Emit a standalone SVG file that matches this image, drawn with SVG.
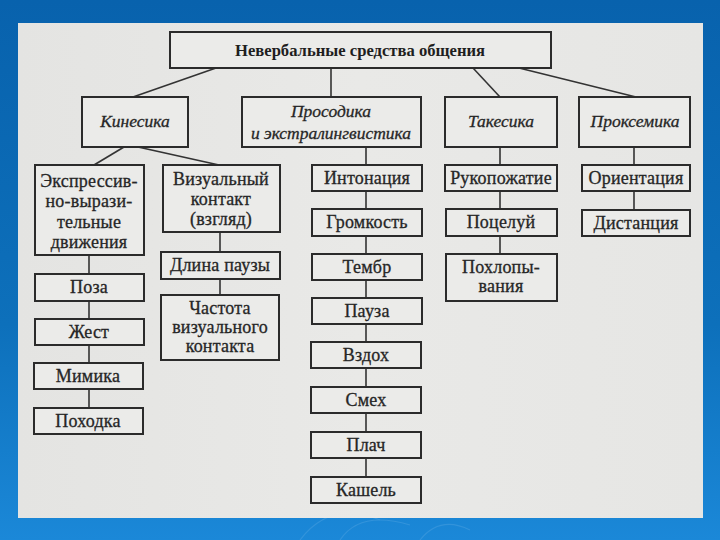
<svg xmlns="http://www.w3.org/2000/svg" width="720" height="540" viewBox="0 0 720 540">
<defs>
<linearGradient id="bg" x1="0" y1="0" x2="0" y2="1">
<stop offset="0" stop-color="#0862ad"/>
<stop offset="0.6" stop-color="#0d70bb"/>
<stop offset="1" stop-color="#1b88d8"/>
</linearGradient>
<linearGradient id="paper" x1="0" y1="0" x2="1" y2="0">
<stop offset="0" stop-color="#e4e4e2"/>
<stop offset="0.5" stop-color="#e9e9e7"/>
<stop offset="1" stop-color="#e6e6e4"/>
</linearGradient>
<style>
.box{fill:#ebebe9;stroke:#2b2b2b;stroke-width:2}
text{font-family:'Liberation Serif','DejaVu Serif',serif}
.t{font-size:18px;letter-spacing:0.2px;fill:#262626;stroke:#262626;stroke-width:0.3;text-anchor:middle}
.h{font-size:17.5px;font-style:italic;fill:#262626;stroke:#262626;stroke-width:0.3;text-anchor:middle}
.title{font-size:17.5px;font-weight:bold;fill:#1e1e1e;text-anchor:middle}
#connectors line{stroke:#333;stroke-width:1.6}
</style>
</defs>
<rect x="0" y="0" width="720" height="540" fill="url(#bg)"/>
<g fill="none" stroke="#4aa0e0" stroke-width="1.2" opacity="0.5">
<path d="M300 540 Q330 500 380 520"/>
<path d="M340 540 Q360 510 410 525"/>
<path d="M420 540 Q440 515 470 530"/>
</g>
<rect x="18" y="23" width="685" height="495" fill="url(#paper)"/>

<g id="connectors">
<line x1="216" y1="68" x2="133" y2="97"/>
<line x1="331" y1="68" x2="331" y2="97"/>
<line x1="473" y1="68" x2="500" y2="97"/>
<line x1="519" y1="68" x2="636" y2="97"/>
<line x1="124" y1="147" x2="94" y2="165"/>
<line x1="138" y1="147" x2="219" y2="165"/>
<line x1="366" y1="147" x2="366" y2="165"/>
<line x1="500" y1="147" x2="500" y2="165"/>
<line x1="634" y1="147" x2="634" y2="165"/>
<line x1="89" y1="255" x2="89" y2="274"/>
<line x1="89" y1="301" x2="89" y2="319"/>
<line x1="89" y1="345" x2="89" y2="363"/>
<line x1="89" y1="389" x2="89" y2="408"/>
<line x1="220" y1="232" x2="220" y2="252"/>
<line x1="220" y1="279" x2="220" y2="295"/>
<line x1="366" y1="191" x2="366" y2="209"/>
<line x1="366" y1="236" x2="366" y2="254"/>
<line x1="366" y1="280" x2="366" y2="298"/>
<line x1="366" y1="324" x2="366" y2="342"/>
<line x1="366" y1="368" x2="366" y2="387"/>
<line x1="366" y1="413" x2="366" y2="432"/>
<line x1="366" y1="458" x2="366" y2="477"/>
<line x1="500" y1="191" x2="500" y2="209"/>
<line x1="500" y1="236" x2="500" y2="254"/>
<line x1="634" y1="191" x2="634" y2="210"/>
</g>

<g id="root"><rect class="box" x="170" y="32" width="381" height="36"/><text class="title" x="360" y="56" textLength="250" lengthAdjust="spacingAndGlyphs">Невербальные средства общения</text></g>

<g id="kinesika"><rect class="box" x="82" y="97" width="106" height="50"/><text class="h" x="135" y="127">Кинесика</text></g>
<g id="prosodika"><rect class="box" x="242" y="97" width="179" height="50"/><text class="h" x="331" y="117">Просодика</text><text class="h" x="331" y="139">и экстралингвистика</text></g>
<g id="takesika"><rect class="box" x="445" y="97" width="112" height="50"/><text class="h" x="501" y="127">Такесика</text></g>
<g id="proksemika"><rect class="box" x="579" y="97" width="111" height="50"/><text class="h" x="635" y="127">Проксемика</text></g>

<g id="expr"><rect class="box" x="35" y="165" width="109" height="90"/><text class="t" x="89" y="187">Экспрессив-</text><text class="t" x="89" y="207">но-вырази-</text><text class="t" x="89" y="228">тельные</text><text class="t" x="89" y="248">движения</text></g>
<g id="vis"><rect class="box" x="163" y="165" width="117" height="67"/><text class="t" x="221" y="185">Визуальный</text><text class="t" x="221" y="205">контакт</text><text class="t" x="221" y="225">(взгляд)</text></g>
<g id="pauselen"><rect class="box" x="161" y="252" width="119" height="27"/><text class="t" x="220" y="271">Длина паузы</text></g>
<g id="freq"><rect class="box" x="161" y="295" width="118" height="65"/><text class="t" x="220" y="314">Частота</text><text class="t" x="220" y="333">визуального</text><text class="t" x="220" y="352">контакта</text></g>

<g id="poza"><rect class="box" x="35" y="274" width="109" height="27"/><text class="t" x="89" y="293">Поза</text></g>
<g id="zhest"><rect class="box" x="35" y="319" width="109" height="26"/><text class="t" x="89" y="338">Жест</text></g>
<g id="mimika"><rect class="box" x="34" y="363" width="109" height="26"/><text class="t" x="88" y="382">Мимика</text></g>
<g id="pohodka"><rect class="box" x="34" y="408" width="109" height="26"/><text class="t" x="88" y="427">Походка</text></g>

<g id="intonacia"><rect class="box" x="312" y="165" width="110" height="26"/><text class="t" x="367" y="184">Интонация</text></g>
<g id="gromkost"><rect class="box" x="312" y="209" width="110" height="27"/><text class="t" x="367" y="228">Громкость</text></g>
<g id="timbre"><rect class="box" x="312" y="254" width="110" height="26"/><text class="t" x="367" y="273">Тембр</text></g>
<g id="pauza"><rect class="box" x="312" y="298" width="110" height="26"/><text class="t" x="367" y="317">Пауза</text></g>
<g id="vzdoh"><rect class="box" x="311" y="342" width="110" height="26"/><text class="t" x="366" y="361">Вздох</text></g>
<g id="smeh"><rect class="box" x="311" y="387" width="110" height="26"/><text class="t" x="366" y="406">Смех</text></g>
<g id="plach"><rect class="box" x="311" y="432" width="110" height="26"/><text class="t" x="366" y="451">Плач</text></g>
<g id="kashel"><rect class="box" x="311" y="477" width="110" height="26"/><text class="t" x="366" y="496">Кашель</text></g>

<g id="rukopozhatie"><rect class="box" x="445" y="165" width="112" height="26"/><text class="t" x="501" y="184">Рукопожатие</text></g>
<g id="poceluy"><rect class="box" x="446" y="209" width="111" height="27"/><text class="t" x="501" y="228">Поцелуй</text></g>
<g id="pohlopyvania"><rect class="box" x="446" y="254" width="111" height="47"/><text class="t" x="501" y="273">Похлопы-</text><text class="t" x="501" y="292">вания</text></g>

<g id="orientacia"><rect class="box" x="582" y="165" width="108" height="26"/><text class="t" x="636" y="184">Ориентация</text></g>
<g id="distancia"><rect class="box" x="582" y="210" width="108" height="26"/><text class="t" x="636" y="229">Дистанция</text></g>
</svg>
